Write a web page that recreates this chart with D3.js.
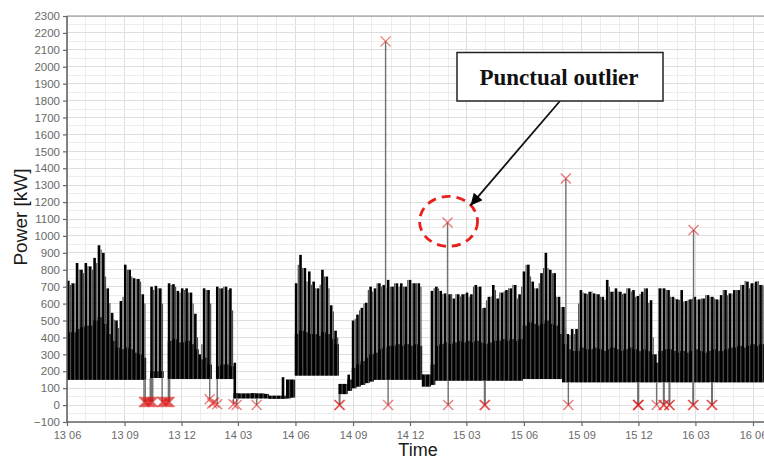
<!DOCTYPE html>
<html>
<head>
<meta charset="utf-8">
<script src="https://cdn.jsdelivr.net/npm/d3@7"></script>
<style>
  html, body { margin: 0; padding: 0; background: #fff; }
  svg { display: block; }
</style>
</head>
<body>
<svg id="chart" width="764" height="463"></svg>
<script>
// ---- Data -------------------------------------------------------------
// Weekly load profile starting 2013-06-01 (one entry per week, null = no data).
// peakKW: weekday maximum, lateKW: maximum in the second half of the week,
// floorKW: plateau reached every day, baseKW: night minimum.
const seriesStart = "2013-06-01";
const peakKW = [
  735, 720, 840, 800, 840, 820, 870, 945, 900, 690,
  545, 500, 615, 830, 800, 750, 745, 655, null, 700,
  705, 690, null, 720, 715, 675, 690, 690, 665, 540,
  300, 690, 680, null, 700, 690, 700, 690, 250, 68,
  68, 68, 70, 68, 68, 66, 55, 55, 55, 165,
  150, 150, 720, 888, 810, 790, 730, 690, 800, 760,
  590, 440, 125, 125, 180, 500, 535, 575, 605, 700,
  690, 720, 710, 740, 700, 720, 720, 700, 740, 720,
  720, 180, 180, 675, 700, 675, 660, 655, 630, 655,
  655, 665, 655, 710, 700, 575, 640, 710, 630, 665,
  680, 690, 710, 655, 790, 830, 730, 690, 780, 900,
  800, 780, 640, 580, 420, 450, 450, 680, 660, 670,
  660, 655, 640, 740, 670, 690, 670, 660, 690, 680,
  645, 670, 690, 620, 300, 690, 690, 680, 640, 625,
  680, 615, 625, 640, 625, 630, 650, 640, 625, 650,
  680, 660, 680, 680, 710, 730, 720, 730, 710, 700
];
const lateKW = [
  710, 720, 800, 780, 820, 800, 840, 920, 760, 603,
  504, 455, 640, 800, 760, 745, 730, 600, null, 680,
  690, 600, null, 710, 700, 665, 680, 665, 600, 400,
  360, 680, 600, null, 690, 700, 680, 560, 68, 68,
  68, 68, 70, 68, 68, 66, 55, 55, 55, 55,
  150, 150, 829, 810, 731, 711, 690, 711, 760, 690,
  553, 400, 125, 125, 150, 510, 560, 600, 680, 672,
  720, 700, 690, 700, 720, 700, 700, 740, 720, 720,
  700, 180, 180, 690, 690, 656, 642, 656, 656, 642,
  656, 640, 700, 700, 573, 620, 642, 680, 665, 673,
  690, 711, 630, 700, 829, 760, 690, 720, 810, 810,
  780, 640, 580, 450, 415, 420, 600, 665, 656, 672,
  656, 640, 622, 700, 672, 672, 656, 690, 672, 640,
  656, 690, 605, 400, 250, 690, 680, 640, 630, 622,
  612, 622, 630, 622, 630, 650, 640, 630, 622, 680,
  650, 660, 680, 711, 733, 690, 720, 733, 711, 700
];
const floorKW = [
  430, 430, 450, 460, 470, 470, 500, 520, 480, 420,
  380, 340, 330, 340, 330, 310, 300, 280, null, 200,
  200, 200, null, 380, 390, 370, 370, 380, 360, 330,
  270, 280, 240, null, 230, 240, 240, 230, 70, 68,
  68, 68, 70, 68, 68, 66, 55, 55, 55, 55,
  150, 150, 420, 440, 430, 420, 420, 410, 430, 420,
  390, 360, 125, 125, 150, 220, 240, 260, 280, 300,
  310, 330, 340, 350, 350, 360, 350, 360, 350, 360,
  350, 180, 180, 240, 350, 360, 370, 360, 370, 380,
  370, 380, 370, 380, 370, 360, 370, 380, 380, 390,
  380, 390, 380, 390, 470, 490, 480, 470, 480, 500,
  480, 470, 420, 360, 330, 320, 320, 340, 330, 330,
  340, 330, 320, 330, 340, 330, 320, 330, 340, 330,
  320, 330, 320, 300, 250, 320, 330, 330, 320, 310,
  320, 310, 320, 330, 320, 310, 320, 330, 320, 320,
  330, 340, 340, 350, 340, 350, 360, 350, 360, 350
];
const baseKW = [
  150, 150, 150, 150, 150, 150, 150, 150, 150, 150,
  150, 150, 150, 150, 150, 150, 150, 150, null, 160,
  160, 160, null, 155, 155, 155, 155, 155, 155, 155,
  155, 155, 155, null, 155, 155, 155, 155, 40, 40,
  40, 40, 40, 40, 40, 40, 38, 38, 38, 38,
  40, 45, 175, 175, 175, 175, 175, 175, 175, 175,
  175, 175, 65, 65, 85, 100, 110, 120, 130, 140,
  150, 150, 150, 150, 150, 150, 150, 150, 150, 150,
  150, 110, 110, 120, 145, 145, 145, 145, 145, 145,
  145, 145, 145, 145, 145, 145, 145, 145, 145, 145,
  145, 145, 145, 145, 155, 155, 155, 155, 155, 155,
  155, 155, 155, 135, 135, 135, 135, 135, 135, 135,
  135, 135, 135, 135, 135, 135, 135, 135, 135, 135,
  135, 135, 135, 135, 135, 135, 135, 135, 135, 135,
  135, 135, 135, 135, 135, 135, 135, 135, 135, 135,
  135, 135, 135, 135, 135, 135, 135, 135, 135, 135
];

// Detected outliers (date, value in kW)
const outlierDates = [
  "2013-10-02", "2013-10-04", "2013-10-06", "2013-10-08", "2013-10-10",
  "2013-10-12", "2013-10-14", "2013-10-16",
  "2013-10-31", "2013-11-02", "2013-11-04", "2013-11-06", "2013-11-08",
  "2013-11-10", "2013-11-12",
  "2014-01-15", "2014-01-19", "2014-01-22", "2014-01-27",
  "2014-02-22", "2014-02-27", "2014-03-31",
  "2014-08-10", "2014-08-11",
  "2014-10-23", "2014-10-27",
  "2015-01-30", "2015-01-31",
  "2015-03-30", "2015-03-31",
  "2015-08-07", "2015-08-11",
  "2015-11-30", "2015-12-01", "2015-12-01",
  "2015-12-30", "2016-01-10", "2016-01-11",
  "2016-01-19", "2016-01-20",
  "2016-02-26", "2016-02-27", "2016-02-27",
  "2016-03-27", "2016-03-28"
];
const outlierKW = [
  18, 18, 18, 18, 18,
  18, 18, 18,
  18, 18, 18, 18, 18,
  18, 18,
  35, 10, 15, 5,
  5, 0, 0,
  0, 0,
  2150, 0,
  1080, 0,
  0, 0,
  1340, 0,
  0, 0, 0,
  0, 0, 0,
  0, 0,
  0, 1035, 0,
  0, 0
];

// Axis ticks
const xTickDates = ["2013-06-01", "2013-09-01", "2013-12-01", "2014-03-01", "2014-06-01",
  "2014-09-01", "2014-12-01", "2015-03-01", "2015-06-01", "2015-09-01",
  "2015-12-01", "2016-03-01", "2016-06-01"];
const yTickValues = [-100, 0, 100, 200, 300, 400, 500, 600, 700, 800, 900, 1000, 1100,
  1200, 1300, 1400, 1500, 1600, 1700, 1800, 1900, 2000, 2100, 2200, 2300];

const noteText = "Punctual outlier";

// ---- Layout -----------------------------------------------------------
const parse = d3.utcParse("%Y-%m-%d");
const svg = d3.select("#chart");
const plotLeft = 67, plotTop = 16, plotBottom = 422, plotRight = 800;

const x = d3.scaleUtc()
  .domain([parse("2013-06-01"), parse("2016-06-01")])
  .range([plotLeft, 753]);
const y = d3.scaleLinear().domain([-100, 2300]).range([plotBottom, plotTop]);

const start = parse(seriesStart);
const weekDate = i => d3.utcDay.offset(start, 7 * i);
const at = (i, hours) => x(d3.utcHour.offset(weekDate(i), hours));

// ---- Grid -------------------------------------------------------------
const grid = svg.append("g");
const endDate = x.invert(plotRight);
d3.utcMonth.range(d3.utcMonth.floor(x.domain()[0]), endDate).forEach(d => {
  const major = d.getUTCMonth() % 3 === 2;
  grid.append("line")
    .attr("x1", x(d)).attr("x2", x(d))
    .attr("y1", plotTop).attr("y2", plotBottom)
    .attr("stroke", major ? "#dedede" : "#ececec")
    .attr("stroke-width", 1)
    .attr("shape-rendering", "crispEdges");
});
d3.range(-100, 2301, 50).forEach(v => {
  grid.append("line")
    .attr("x1", plotLeft).attr("x2", plotRight)
    .attr("y1", y(v)).attr("y2", y(v))
    .attr("stroke", v % 100 === 0 ? "#dedede" : "#ececec")
    .attr("stroke-width", 1)
    .attr("shape-rendering", "crispEdges");
});

// ---- Power series -----------------------------------------------------
const weeks = d3.range(peakKW.length).filter(i => peakKW[i] != null);
const sig = svg.append("g");
// daily plateau band
sig.selectAll("rect.floor").data(weeks).join("rect")
  .attr("class", "floor")
  .attr("x", i => at(i, 0))
  .attr("width", i => at(i, 168) - at(i, 0) + 0.3)
  .attr("y", i => y(floorKW[i]))
  .attr("height", i => y(baseKW[i]) - y(floorKW[i]))
  .attr("fill", "#000");
// early-week maximum
sig.selectAll("rect.peak").data(weeks).join("rect")
  .attr("class", "peak")
  .attr("x", i => at(i, 0))
  .attr("width", i => at(i, 100) - at(i, 0))
  .attr("y", i => y(peakKW[i]))
  .attr("height", i => y(baseKW[i]) - y(peakKW[i]))
  .attr("fill", "#000");
// late-week maximum
sig.selectAll("line.late").data(weeks).join("line")
  .attr("class", "late")
  .attr("x1", i => at(i, 132))
  .attr("x2", i => at(i, 132))
  .attr("y1", i => y(lateKW[i]))
  .attr("y2", i => y(baseKW[i]))
  .attr("stroke", "#4d4d4d")
  .attr("stroke-width", 1.2);

// ---- Outliers ---------------------------------------------------------
const outliers = outlierDates.map((d, k) => ({ date: parse(d), kw: outlierKW[k] }));
const weekOf = d => Math.floor((d - start) / (7 * 864e5));
const og = svg.append("g");
outliers.forEach(o => {
  const w = weekOf(o.date);
  if (peakKW[w] == null) return;
  og.append("line")
    .attr("x1", x(o.date)).attr("x2", x(o.date))
    .attr("y1", y(baseKW[w])).attr("y2", y(o.kw))
    .attr("stroke", "#707070")
    .attr("stroke-width", 1.4);
});
const s = 5;
og.selectAll("path.mark").data(outliers).join("path")
  .attr("class", "mark")
  .attr("d", o => {
    const cx = x(o.date), cy = y(o.kw);
    return `M${cx - s},${cy - s}L${cx + s},${cy + s}M${cx - s},${cy + s}L${cx + s},${cy - s}`;
  })
  .attr("stroke", "#dd1515")
  .attr("stroke-opacity", 0.55)
  .attr("stroke-width", 1.4)
  .attr("fill", "none");

// ---- Frame & axes -----------------------------------------------------
svg.append("line").attr("x1", plotLeft).attr("x2", plotRight).attr("y1", plotTop).attr("y2", plotTop)
  .attr("stroke", "#8a8a8a").attr("stroke-width", 1);

const yAxis = svg.append("g")
  .attr("transform", `translate(${plotLeft},0)`)
  .call(d3.axisLeft(y).tickValues(yTickValues).tickSize(4).tickPadding(3)
    .tickFormat(d3.format("d")));
const xAxis = svg.append("g")
  .attr("transform", `translate(0,${plotBottom})`)
  .call(d3.axisBottom(x).tickValues(xTickDates.map(parse)).tickSize(4).tickPadding(5)
    .tickFormat(d3.utcFormat("%y %m")));
xAxis.select(".domain").attr("d", `M${plotLeft},0H${plotRight}`);
yAxis.select(".domain").attr("d", `M0,${plotBottom}V${plotTop}`);
[yAxis, xAxis].forEach(a => {
  a.selectAll(".domain").attr("stroke", "#666").attr("stroke-width", 1.6);
  a.selectAll(".tick line").attr("stroke", "#666").attr("stroke-width", 1.2);
  a.selectAll("text").attr("fill", "#6a6a6a")
    .style("font-family", "'Liberation Sans', Arial, sans-serif");
});
yAxis.selectAll("text").style("font-size", "11.5px");
xAxis.selectAll("text").style("font-size", "11px");

svg.append("text")
  .attr("transform", "translate(27,217) rotate(-90)")
  .attr("text-anchor", "middle")
  .style("font-family", "'Liberation Sans', Arial, sans-serif")
  .style("font-size", "19px")
  .attr("fill", "#1a1a1a")
  .text("Power [kW]");
svg.append("text")
  .attr("x", 418).attr("y", 456)
  .attr("text-anchor", "middle")
  .style("font-family", "'Liberation Sans', Arial, sans-serif")
  .style("font-size", "18px")
  .attr("fill", "#1a1a1a")
  .text("Time");

// ---- Annotation -------------------------------------------------------
const target = outliers.find(o => o.kw === 1080);
const tx = x(target.date), ty = y(target.kw);
svg.append("ellipse")
  .attr("cx", tx + 1).attr("cy", ty - 1)
  .attr("rx", 29).attr("ry", 25)
  .attr("fill", "none")
  .attr("stroke", "#e8201c")
  .attr("stroke-width", 2.8)
  .attr("stroke-dasharray", "9 6");

svg.append("defs").append("marker")
  .attr("id", "arrowhead")
  .attr("viewBox", "0 0 10 10")
  .attr("refX", 10).attr("refY", 5)
  .attr("markerWidth", 8).attr("markerHeight", 6.5)
  .attr("markerUnits", "strokeWidth")
  .attr("orient", "auto")
  .append("path").attr("d", "M0,0L10,5L0,10Z").attr("fill", "#000");

svg.append("line")
  .attr("x1", 560).attr("y1", 101)
  .attr("x2", tx + 23).attr("y2", ty - 17)
  .attr("stroke", "#111").attr("stroke-width", 1.8)
  .attr("marker-end", "url(#arrowhead)");

svg.append("rect")
  .attr("x", 457).attr("y", 52.5)
  .attr("width", 206).attr("height", 48.5)
  .attr("fill", "#fff")
  .attr("stroke", "#222").attr("stroke-width", 1.5);
svg.append("text")
  .attr("x", 559).attr("y", 85)
  .attr("text-anchor", "middle")
  .style("font-family", "'Liberation Serif', 'Times New Roman', serif")
  .style("font-weight", "bold")
  .style("font-size", "23px")
  .attr("fill", "#111")
  .text(noteText);
</script>
</body>
</html>
